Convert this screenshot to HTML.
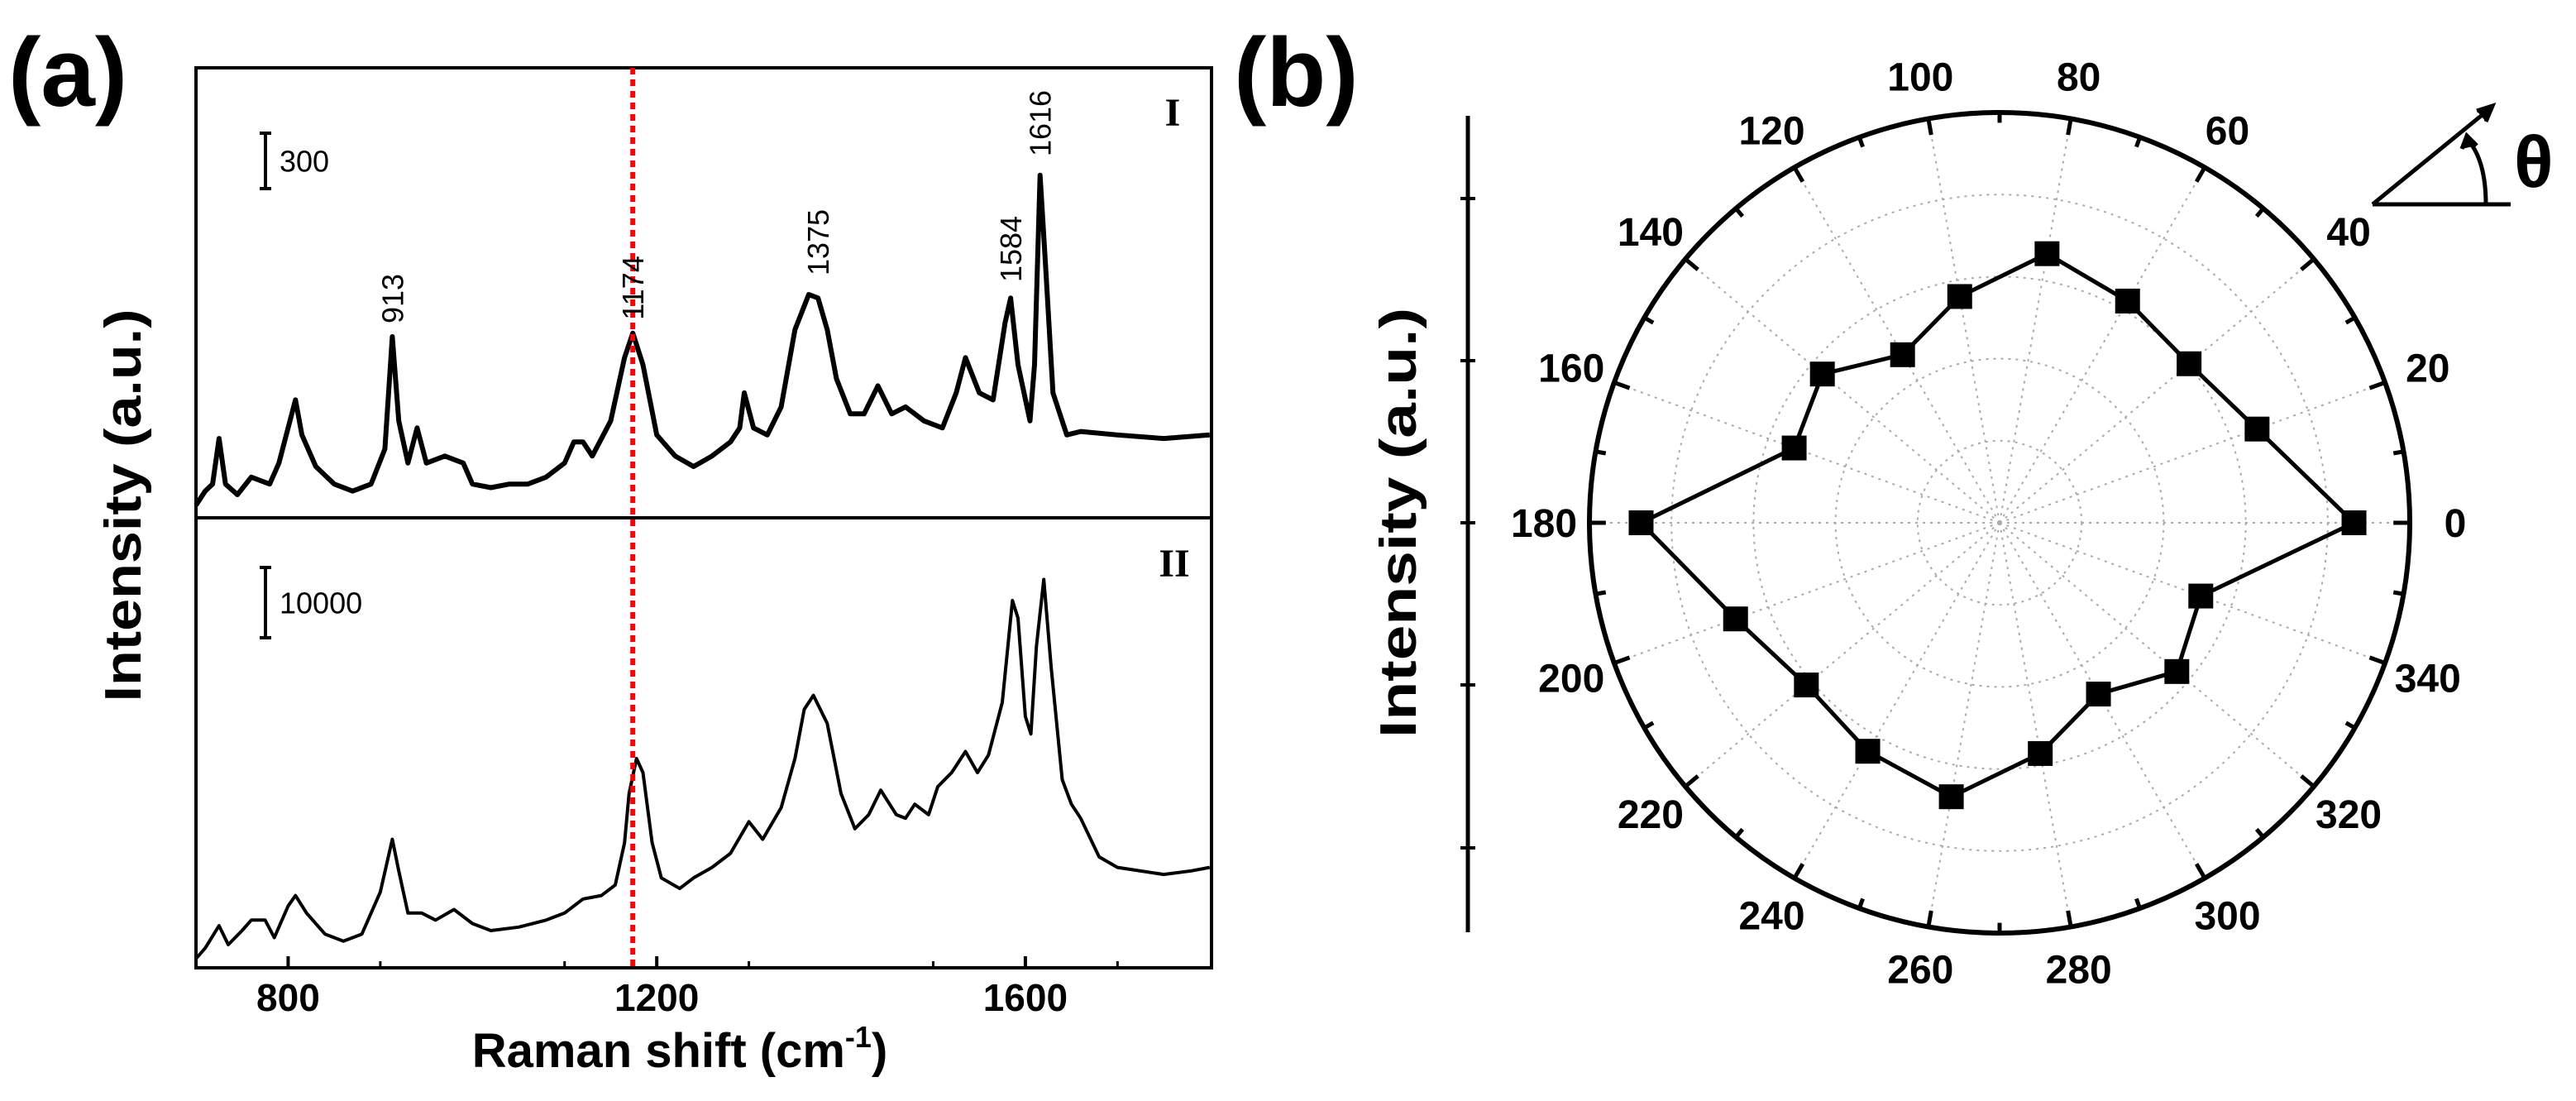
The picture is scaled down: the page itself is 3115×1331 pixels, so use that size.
<!DOCTYPE html>
<html><head><meta charset="utf-8"><style>
html,body{margin:0;padding:0;background:#fff;overflow:hidden;}
svg{display:block;font-family:"Liberation Sans",Arial,sans-serif;}
</style></head><body>
<svg id="fig" width="3115" height="1331" viewBox="0 0 3115 1331" xmlns="http://www.w3.org/2000/svg">
<text x="10" y="128" font-size="118" font-weight="bold">(a)</text>
<text x="1492" y="128" font-size="118" font-weight="bold">(b)</text>
<g id="pa"></g>
<g id="pb"></g>
</svg>
<script>
// ---- Panel (a) data ----
const wnI = [700,710,718,725,732,745,760,780,790,800,808,815,830,850,870,890,905,913,920,930,940,950,970,990,1000,1020,1040,1060,1080,1100,1110,1120,1130,1150,1165,1174,1185,1200,1220,1240,1260,1280,1290,1295,1305,1320,1335,1350,1365,1375,1385,1395,1410,1425,1440,1455,1470,1490,1510,1525,1535,1550,1565,1578,1584,1592,1605,1610,1616,1622,1630,1645,1660,1700,1750,1800];
const intI = [18,38,48,113,48,33,58,48,78,128,168,118,73,48,38,48,98,258,138,78,128,78,88,78,48,43,48,48,58,78,108,108,88,138,228,263,218,118,88,73,88,108,128,178,128,118,158,268,318,313,268,198,148,148,188,148,158,138,128,178,228,178,168,278,313,218,138,218,488,358,178,118,123,118,113,118];
const wnII = [700,710,725,735,750,760,775,785,800,808,820,840,860,880,900,913,920,930,945,960,980,1000,1020,1050,1080,1100,1120,1140,1155,1165,1170,1178,1185,1195,1205,1225,1240,1260,1280,1300,1315,1335,1350,1360,1370,1385,1400,1415,1430,1443,1460,1470,1480,1495,1505,1520,1535,1548,1560,1575,1586,1592,1600,1606,1612,1620,1628,1640,1650,1660,1680,1700,1750,1780,1800];
const intII = [13,28,60,33,53,68,68,43,88,103,78,48,38,48,108,183,138,78,78,68,83,63,53,58,68,78,98,103,118,178,248,298,278,178,128,113,128,143,163,208,183,228,298,368,388,348,248,198,218,253,218,213,233,218,258,278,308,278,303,378,523,498,358,333,458,553,428,268,233,213,158,143,133,138,143];
const xTicks = [800,1200,1600];
const peakLabels = ["913","1174","1375","1584","1616"];
const peakPos = [913,1174,1375,1584,1616];
const markerLine = 1174;

// ---- Panel (b) data ----
const angles = [0,20,40,60,80,100,120,140,160,180,200,220,240,260,280,300,320,340];
const radii = [0.864,0.668,0.603,0.624,0.666,0.560,0.473,0.564,0.533,0.874,0.685,0.615,0.643,0.678,0.571,0.482,0.564,0.522];

const NS="http://www.w3.org/2000/svg";
function mk(parent,tag,attrs,text){const e=document.createElementNS(NS,tag);for(const k in attrs)e.setAttribute(k,attrs[k]);if(text!==undefined)e.textContent=text;parent.appendChild(e);return e;}

const K=0.849;
const L=237,R=1465,T=82,B=1170,MID=626;
const xS=v=>L+(v-700)*(R-L)/(1802-700);
const yI=v=>MID-v*K;
const yII=v=>B-v*K;
const pa=document.getElementById('pa');
let el;
el=mk(pa,'rect',{x:L,y:T,width:R-L,height:B-T,fill:'none',stroke:'#000','stroke-width':4});


el=mk(pa,'line',{x1:L,x2:R,y1:MID,y2:MID,stroke:'#000','stroke-width':4});


xTicks.forEach(t=>{
  el=mk(pa,'line',{x1:xS(t),x2:xS(t),y1:B,y2:B-14,stroke:'#000','stroke-width':4});
  
  
  el=mk(pa,'text',{x:xS(t),y:1222,'font-size':46,'font-weight':'bold','text-anchor':'middle'},String(t));
  
  
});
for(let t=700;t<=1800;t+=200){if(xTicks.includes(t))continue;
  el=mk(pa,'line',{x1:xS(t),x2:xS(t),y1:B,y2:B-8,stroke:'#000','stroke-width':3});
  
  }
el=mk(pa,'text',{x:822,y:1290,'font-size':58,'font-weight':'bold','text-anchor':'middle'});


el.innerHTML='Raman shift (cm<tspan dy="-24" font-size="36">-1</tspan><tspan dy="24">)</tspan>';
el=mk(pa,'text',{x:0,y:0,'font-size':62,'font-weight':'bold','text-anchor':'middle',textLength:475,lengthAdjust:'spacingAndGlyphs',transform:'translate(170,611) rotate(-90)'},'Intensity (a.u.)');



function line(xs,ys,yf,name,w){
  const d=xs.map((x,i)=>(i?'L':'M')+xS(x).toFixed(1)+','+yf(ys[i]).toFixed(1)).join('');
  const p=mk(pa,'path',{d:d,fill:'none',stroke:'#000','stroke-width':w,'stroke-linejoin':'round'});
  
  
}
line(wnI,intI,yI,'spectrum-i',6);
line(wnII,intII,yII,'spectrum-ii',4);
el=mk(pa,'line',{x1:xS(markerLine),x2:xS(markerLine),y1:T,y2:B,stroke:'#f00','stroke-width':6,'stroke-dasharray':'8,6'});


const labY=[361,348,293,301,149];
peakLabels.forEach((s,i)=>{
  el=mk(pa,'text',{x:0,y:0,'font-size':36,'text-anchor':'middle',transform:`translate(${xS(peakPos[i])+13},${labY[i]}) rotate(-90)`},s);
  
  
});
function bar(y1,y2,txt,name){
  const g=mk(pa,'g',{});
  
  
  mk(g,'line',{x1:321,x2:321,y1:y1,y2:y2,stroke:'#000','stroke-width':4});
  mk(g,'line',{x1:314,x2:328,y1:y1,y2:y1,stroke:'#000','stroke-width':4});
  mk(g,'line',{x1:314,x2:328,y1:y2,y2:y2,stroke:'#000','stroke-width':4});
  mk(g,'text',{x:338,y:(y1+y2)/2+13,'font-size':36},txt);
}
bar(161,228,'300','scale-bar-i');
bar(686,771,'10000','scale-bar-ii');
el=mk(pa,'text',{x:1418,y:152,'font-size':48,'font-weight':'bold','font-family':'Liberation Serif, serif','text-anchor':'middle'},'I');


el=mk(pa,'text',{x:1420,y:697,'font-size':48,'font-weight':'bold','font-family':'Liberation Serif, serif','text-anchor':'middle'},'II');



// ---- Panel (b) ----
const pb=document.getElementById('pb');
const CX=2418,CY=632,RX=496,RY=496;
const px=(a,r)=>CX+r*RX*Math.cos(a*Math.PI/180);
const py=(a,r)=>CY-r*RY*Math.sin(a*Math.PI/180);
for(let k=1;k<=4;k++){
  el=mk(pb,'ellipse',{cx:CX,cy:CY,rx:RX*k/5,ry:RY*k/5,fill:'none',stroke:'#aaa','stroke-width':2,'stroke-dasharray':'3,6'});
  
  
}
for(let a=0;a<360;a+=20){
  el=mk(pb,'line',{x1:CX,y1:CY,x2:px(a,1),y2:py(a,1),stroke:'#aaa','stroke-width':2,'stroke-dasharray':'3,6'});
  
  
}
el=mk(pb,'ellipse',{cx:CX,cy:CY,rx:RX,ry:RY,fill:'none',stroke:'#000','stroke-width':6});


for(let a=0;a<360;a+=10){
  const len=a%20===0?0.04:0.025;
  el=mk(pb,'line',{x1:px(a,1),y1:py(a,1),x2:px(a,1-len),y2:py(a,1-len),stroke:'#000','stroke-width':5});
  
  
}
for(let a=0;a<360;a+=20){
  const lx=CX+(RX+55)*Math.cos(a*Math.PI/180), ly=CY-(RY+52)*Math.sin(a*Math.PI/180);
  el=mk(pb,'text',{x:lx,y:ly+17,'font-size':48,'font-weight':'bold','text-anchor':'middle'},String(a));
  
  
}
const pts=angles.map((a,i)=>[px(a,radii[i]),py(a,radii[i])]);
el=mk(pb,'polygon',{points:pts.map(p=>p[0].toFixed(1)+','+p[1].toFixed(1)).join(' '),fill:'none',stroke:'#000','stroke-width':5});


pts.forEach(p=>{
  el=mk(pb,'rect',{x:p[0]-15,y:p[1]-15,width:30,height:30,fill:'#000'});
  
  
});
el=mk(pb,'line',{x1:1775,x2:1775,y1:140,y2:1127,stroke:'#000','stroke-width':5});


[240,436,632,828,1025].forEach(y=>{
  el=mk(pb,'line',{x1:1766,x2:1784,y1:y,y2:y,stroke:'#000','stroke-width':4});
  
  
});
el=mk(pb,'text',{x:0,y:0,'font-size':62,'font-weight':'bold','text-anchor':'middle',textLength:520,lengthAdjust:'spacingAndGlyphs',transform:'translate(1712,632) rotate(-90)'},'Intensity (a.u.)');


const g=mk(pb,'g',{fill:'none',stroke:'#000','stroke-width':5});


mk(g,'line',{x1:2869,y1:247,x2:3036,y2:247});
mk(g,'line',{x1:2869,y1:247,x2:3010,y2:132});
mk(g,'path',{d:'M2995,134 L3014,128 L3006,147',fill:'#000'});
mk(g,'path',{d:'M3006,247 Q3006,195 2985,170'});
mk(g,'path',{d:'M2977,180 L2983,164 L2995,176',fill:'#000'});
el=mk(pb,'text',{x:3040,y:226,'font-size':88,'font-weight':'bold'},'θ');


</script>
</body></html>
